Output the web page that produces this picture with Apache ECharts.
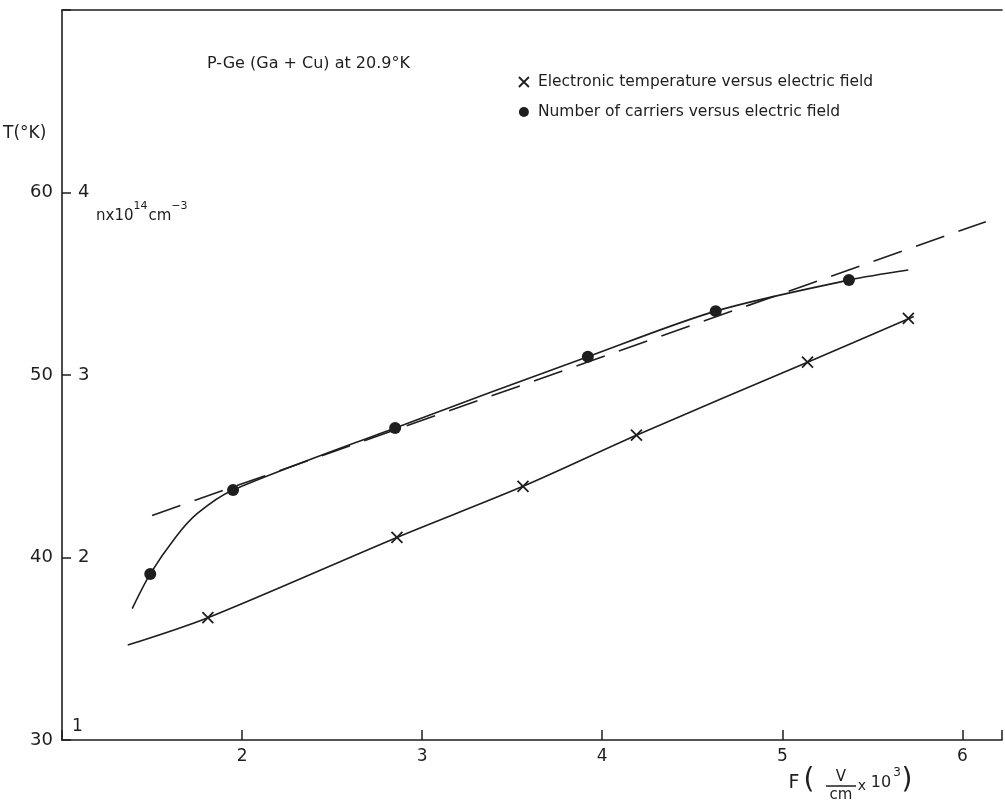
<!DOCTYPE html>
<html>
<head>
<meta charset="utf-8">
<script src="https://cdn.jsdelivr.net/npm/echarts@6/dist/echarts.min.js"></script>
<style>
html,body{margin:0;padding:0;background:#fff;}
#chart{width:1005px;height:803px;}
</style>
</head>
<body>
<div id="chart"></div>
<script>
// Electronic temperature (crosses), T in K
var tempF = [1.81, 2.86, 3.56, 4.19, 5.14, 5.70];
var tempT = [36.7, 41.1, 43.9, 46.7, 50.7, 53.1];
// Curve through the crosses (ends)
var tempCurveF = [1.365, 1.81, 2.86, 3.56, 4.19, 5.14, 5.73];
var tempCurveT = [35.2, 36.7, 41.1, 43.9, 46.7, 50.7, 53.2];
// Number of carriers (dots), n x 10^14 cm^-3
var carrF = [1.49, 1.95, 2.85, 3.92, 4.63, 5.37];
var carrN = [1.91, 2.37, 2.71, 3.10, 3.35, 3.52];
// Curve through the dots (extra points)
var carrCurveF = [1.39, 1.49, 1.63, 1.75, 1.95, 2.85, 3.92, 4.63, 5.37, 5.70];
var carrCurveN = [1.72, 1.91, 2.11, 2.24, 2.37, 2.71, 3.10, 3.35, 3.52, 3.575];
// Dashed straight line
var dashF = [1.50, 6.13];
var dashN = [2.23, 3.84];
// Tick labels
var xTicks = [2, 3, 4, 5, 6];
var tTicks = [30, 40, 50, 60];
var nTicks = [1, 2, 3, 4];

function pairs(a, b) { return a.map(function (v, i) { return [v, b[i]]; }); }

var ink = '#1e1e1e';
var font = 'DejaVu Sans';
var crossPath = 'path://M0,0L10,10M10,0L0,10';

function txt(x, y, s, size) {
  return {type: 'text', x: x, y: y, style: {text: s, font: size + 'px "DejaVu Sans"', fill: ink, align: 'center', verticalAlign: 'middle'}};
}

var chart = echarts.init(document.getElementById('chart'), null, {renderer: 'canvas'});
chart.setOption({
  backgroundColor: '#fff',
  animation: false,
  textStyle: {fontFamily: font, color: ink},
  grid: {left: 62, right: 0, top: 10, bottom: 63},
  legend: {
    orient: 'vertical', left: 513, top: 69, itemGap: 14,
    itemWidth: 10, itemHeight: 10,
    textStyle: {fontFamily: font, fontSize: 15.5, color: ink, padding: [0, 0, 0, 4]},
    data: [
      {name: 'Electronic temperature versus electric field', icon: crossPath,
       itemStyle: {color: ink, borderColor: ink, borderWidth: 1.8, opacity: 1}},
      {name: 'Number of carriers versus electric field', icon: 'circle',
       itemStyle: {color: ink, opacity: 1}}
    ]
  },
  xAxis: [{
    type: 'value', min: 1, max: 6.22, interval: 1,
    axisLine: {show: true, lineStyle: {color: ink, width: 1.6}},
    axisTick: {show: true, inside: true, length: 10, lineStyle: {color: ink, width: 1.5}},
    axisLabel: {fontSize: 17, color: ink, margin: 8, fontFamily: font,
      formatter: function (v) { return xTicks.indexOf(v) >= 0 ? String(v) : ''; }},
    splitLine: {show: false}
  }, {
    type: 'value', position: 'top', min: 1, max: 6.22,
    axisLine: {show: true, lineStyle: {color: ink, width: 1.6}},
    axisTick: {show: false}, axisLabel: {show: false}, splitLine: {show: false}
  }],
  yAxis: [{
    type: 'value', min: 30, max: 70, interval: 10,
    axisLine: {show: true, lineStyle: {color: ink, width: 1.6}},
    axisTick: {show: true, inside: true, length: 9, lineStyle: {color: ink, width: 1.5}},
    axisLabel: {fontSize: 18, color: ink, margin: 9, fontFamily: font,
      formatter: function (v) { return tTicks.indexOf(v) >= 0 ? String(v) : ''; }},
    splitLine: {show: false}
  }, {
    type: 'value', min: 1, max: 5, interval: 1, position: 'left',
    axisLine: {show: false}, axisTick: {show: false}, splitLine: {show: false},
    axisLabel: {inside: true, fontSize: 18, color: ink, margin: 16, fontFamily: font,
      formatter: function (v) {
        if (v === 1) return '{one|1}';
        return nTicks.indexOf(v) >= 0 ? String(v) : '';
      },
      rich: {one: {fontSize: 17, fontFamily: font, color: ink, padding: [0, 0, 26, -6]}}}
  }],
  series: [
    {
      name: 'Electronic temperature versus electric field', type: 'scatter',
      data: pairs(tempF, tempT), symbol: crossPath, symbolSize: 11,
      itemStyle: {color: ink, borderColor: ink, borderWidth: 1.8, opacity: 1}, z: 5
    },
    {
      name: 'Number of carriers versus electric field', type: 'scatter', yAxisIndex: 1,
      data: pairs(carrF, carrN), symbol: 'circle', symbolSize: 12,
      itemStyle: {color: ink, opacity: 1}, z: 5
    },
    {
      name: 'tempCurve', type: 'line', data: pairs(tempCurveF, tempCurveT),
      smooth: 0.3, symbol: 'none', lineStyle: {color: ink, width: 1.6}, silent: true
    },
    {
      name: 'carrCurve', type: 'line', yAxisIndex: 1, data: pairs(carrCurveF, carrCurveN),
      smooth: 0.3, symbol: 'none', lineStyle: {color: ink, width: 1.6}, silent: true
    },
    {
      name: 'dash', type: 'line', yAxisIndex: 1, data: pairs(dashF, dashN),
      symbol: 'none', lineStyle: {color: ink, width: 1.6, type: [30, 15]}, silent: true
    }
  ],
  graphic: [
    {type: 'text', x: 207, y: 64, style: {text: 'P-Ge (Ga + Cu) at 20.9°K', font: '16px "DejaVu Sans"', fill: ink, align: 'left', verticalAlign: 'middle'}},
    {type: 'text', x: 3, y: 134, style: {text: 'T(°K)', font: '17px "DejaVu Sans"', fill: ink, align: 'left', verticalAlign: 'middle'}},
    {type: 'text', x: 96, y: 212, style: {
      text: '{b|nx10}{s|14}{b|cm}{s|−3}', align: 'left', verticalAlign: 'middle',
      rich: {
        b: {font: '15px "DejaVu Sans"', fill: ink, verticalAlign: 'bottom', padding: [8, 0, 0, 0]},
        s: {font: '11px "DejaVu Sans"', fill: ink, verticalAlign: 'top', padding: [0, 1, 8, 0]}
      }}},
    txt(794, 783, 'F', 19),
    txt(809, 781, '(', 28),
    txt(841, 777, 'V', 15),
    {type: 'line', shape: {x1: 826, y1: 786, x2: 856, y2: 786}, style: {stroke: ink, lineWidth: 1.5}},
    txt(841, 795, 'cm', 15),
    txt(862, 786, 'x', 14),
    txt(881, 783, '10', 16),
    txt(897, 773, '3', 12),
    txt(907, 781, ')', 28)
  ]
});
</script>
</body>
</html>
